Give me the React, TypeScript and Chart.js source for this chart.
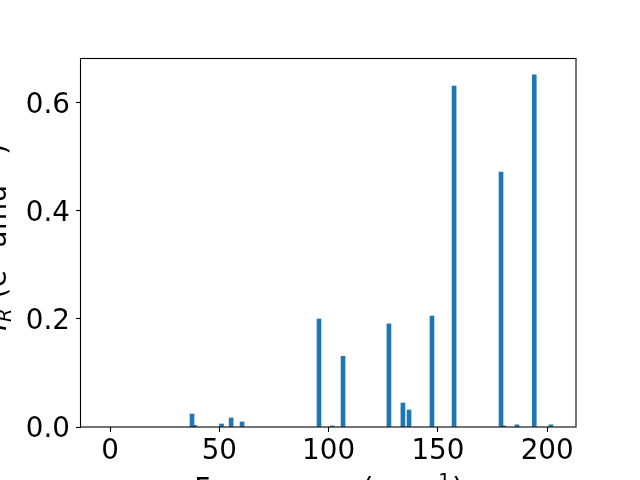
import React, { useEffect, useRef } from "react";
import { Chart, registerables } from "chart.js";

Chart.register(...registerables);

const frequencies = [37.5, 38.6, 51.0, 55.4, 60.4, 95.6, 101.6, 106.6, 127.6, 134.0, 136.8, 147.3, 157.4, 178.9, 180.0, 186.2, 194.1, 201.7];
const intensities = [0.024, 0.003, 0.0056, 0.0167, 0.0093, 0.2, 0.002, 0.131, 0.191, 0.0444, 0.0315, 0.2055, 0.6315, 0.472, 0.002, 0.004, 0.652, 0.004];
const xTickValues = [0, 50, 100, 150, 200];
const yTickValues = [0, 0.2, 0.4, 0.6];
const xRange = [-13.3, 213.2];
const yRange = [0, 0.6833];

const FONT = "DejaVu Sans";
const FS = 27.78;

type Piece = { t: string; scale: number; dy: number; italic?: boolean };

function drawPieces(ctx: CanvasRenderingContext2D, pieces: Piece[], cx: number, baseY: number, spacing: number) {
  (ctx as any).letterSpacing = `${spacing}px`;
  const widths = pieces.map((p) => {
    ctx.font = `${p.italic ? "italic " : ""}${FS * p.scale}px "${FONT}"`;
    return ctx.measureText(p.t).width;
  });
  const total = widths.reduce((a, b) => a + b, 0);
  let x = cx - total / 2;
  ctx.textAlign = "left";
  ctx.textBaseline = "alphabetic";
  pieces.forEach((p, i) => {
    ctx.font = `${p.italic ? "italic " : ""}${FS * p.scale}px "${FONT}"`;
    ctx.fillText(p.t, x, baseY + p.dy);
    x += widths[i];
  });
  (ctx as any).letterSpacing = "0px";
}

const frame = {
  id: "frame",
  afterDraw(chart: any) {
    const { ctx, chartArea: a } = chart;
    ctx.save();
    ctx.strokeStyle = "#000";
    ctx.lineWidth = 1.1;
    ctx.strokeRect(Math.round(a.left) - 0.5, Math.round(a.top) + 0.5, Math.round(a.right - a.left) + 0.5, Math.round(a.bottom - a.top) - 0.5);
    ctx.fillStyle = "#000";
    // x title
    const xCenter = (a.left + a.right) / 2 + 1;
    drawPieces(
      ctx,
      [
        { t: "Frequency (cm", scale: 1, dy: 0 },
        { t: "\u22121", scale: 0.7, dy: -11 },
        { t: ")", scale: 1, dy: 0 },
      ],
      xCenter,
      497.5,
      1.6
    );
    // y title
    ctx.save();
    ctx.translate(6, 237);
    ctx.rotate(-Math.PI / 2);
    drawPieces(
      ctx,
      [
        { t: "I", scale: 1, dy: 0, italic: true },
        { t: "R", scale: 0.7, dy: 5, italic: true },
        { t: " (e", scale: 1, dy: 0 },
        { t: "2", scale: 0.7, dy: -11 },
        { t: " amu", scale: 1, dy: 0 },
        { t: "\u22121", scale: 0.7, dy: -11 },
        { t: ")", scale: 1, dy: 0 },
      ],
      0,
      0,
      0.5
    );
    ctx.restore();
    ctx.restore();
  },
};

export default function App() {
  const ref = useRef<HTMLCanvasElement>(null);
  useEffect(() => {
    const canvas = ref.current!;
    const chart = new Chart(canvas, {
      type: "bar",
      data: {
        datasets: [
          {
            data: frequencies.map((f, i) => ({ x: f, y: intensities[i] })),
            backgroundColor: "#1f77b4",
            borderWidth: 0,
            barThickness: 4,
          },
        ],
      },
      options: {
        animation: false,
        responsive: false,
        layout: { padding: { top: 58, right: 64, left: 0, bottom: 0 } },
        plugins: { legend: { display: false }, tooltip: { enabled: false } },
        scales: {
          x: {
            type: "linear",
            min: xRange[0],
            max: xRange[1],
            offset: false,
            afterFit: (s: any) => {
              s.height = 53;
            },
            afterBuildTicks: (s: any) => {
              s.ticks = xTickValues.map((v) => ({ value: v }));
            },
            border: { display: false },
            grid: { offset: false, drawOnChartArea: false, drawTicks: true, tickLength: 5, tickWidth: 1.1, tickColor: "#000", color: "#000" },
            ticks: {
              color: "#000",
              font: { family: FONT, size: FS },
              padding: 3,
              maxRotation: 0,
              autoSkip: false,
              callback: (v: any) => String(v),
            },
          },
          y: {
            type: "linear",
            min: yRange[0],
            max: yRange[1],
            afterFit: (s: any) => {
              s.width = 81;
            },
            afterBuildTicks: (s: any) => {
              s.ticks = yTickValues.map((v) => ({ value: v }));
            },
            border: { display: false },
            grid: { offset: false, drawOnChartArea: false, drawTicks: true, tickLength: 5, tickWidth: 1.1, tickColor: "#000", color: "#000" },
            ticks: {
              color: "#000",
              font: { family: FONT, size: FS },
              padding: 6,
              labelOffset: 3,
              autoSkip: false,
              callback: (v: any) => Number(v).toFixed(1),
            },
          },
        },
      },
      plugins: [frame],
    });
    return () => chart.destroy();
  }, []);
  return (
    <canvas
      ref={ref}
      width={640}
      height={480}
      style={{ position: "absolute", left: 0, top: 0, width: 640, height: 480, background: "#fff" }}
    />
  );
}
